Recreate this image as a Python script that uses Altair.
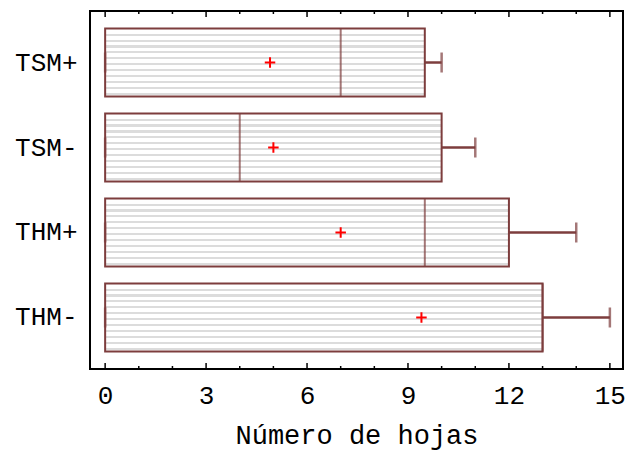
import altair as alt
import pandas as pd

cats = ["TSM+", "TSM-", "THM+", "THM-"]
mins = [0, 0, 0, 0]
q1s = [0, 0, 0, 0]
medians = [7, 4, 9.5, 13]
q3s = [9.5, 10, 12, 13]
maxs = [10, 11, 14, 15]
means = [4.9, 5.0, 7.0, 9.4]

major_ticks = [0, 3, 6, 9, 12, 15]
minor_ticks = [1, 2, 4, 5, 7, 8, 10, 11, 13, 14]

df = pd.DataFrame({"cat": cats, "min": mins, "q1": q1s, "med": medians,
                   "q3": q3s, "max": maxs, "mean": means})
df_major = pd.DataFrame({"v": major_ticks})
df_minor = pd.DataFrame({"v": minor_ticks})

FONT = "Courier New, Liberation Mono, monospace"
BOX = "#7d3d3d"
W, H = 533, 358

# striped fill (style only)
stops = [alt.GradientStop(offset=0, color="white")]
for k in range(11):
    s = 0.074 + k * 0.0877
    stops += [alt.GradientStop(offset=s, color="white"),
              alt.GradientStop(offset=s, color="#dcdcdc"),
              alt.GradientStop(offset=s + 0.03, color="#dcdcdc"),
              alt.GradientStop(offset=s + 0.03, color="white")]
stops.append(alt.GradientStop(offset=1, color="white"))
stripes = alt.Gradient(gradient="linear", stops=stops, x1=0, x2=0, y1=0, y2=1)

xscale = alt.Scale(domain=[-0.45, 15.39], nice=False, zero=False)
yscale = alt.Scale(domain=cats, paddingInner=0.2, paddingOuter=0.206)

xenc = alt.X("q1:Q", scale=xscale,
             axis=alt.Axis(values=major_ticks, grid=False, ticks=False, domain=False,
                           labelFont=FONT, labelFontSize=26, labelColor="black",
                           labelPadding=13, title="Número de hojas",
                           titleFont=FONT, titleFontSize=27, titleFontWeight="normal",
                           titleColor="black", titlePadding=14))
yenc = alt.Y("cat:N", scale=yscale, sort=cats,
             axis=alt.Axis(title=None, ticks=False, domain=False, grid=False,
                           labelFont=FONT, labelFontSize=26, labelColor="black",
                           labelPadding=13))

base = alt.Chart(df)

boxes = base.mark_bar(fill=stripes, stroke=BOX, strokeWidth=2).encode(
    x=xenc, x2="q3:Q", y=yenc)

whisk = base.mark_rule(color=BOX, strokeWidth=2.5).encode(
    x=alt.X("q3:Q", scale=xscale), x2="max:Q", y=alt.Y("cat:N", scale=yscale, sort=cats))

cap_max = base.mark_tick(color=BOX, thickness=2.5, size=20, orient="vertical").encode(
    x=alt.X("max:Q", scale=xscale), y=alt.Y("cat:N", scale=yscale, sort=cats))
cap_min = base.mark_tick(color=BOX, thickness=2.5, size=20, orient="vertical").encode(
    x=alt.X("min:Q", scale=xscale), y=alt.Y("cat:N", scale=yscale, sort=cats))
med = base.mark_tick(color=BOX, thickness=2, size=68, orient="vertical").encode(
    x=alt.X("med:Q", scale=xscale), y=alt.Y("cat:N", scale=yscale, sort=cats))

mean_pt = base.mark_point(shape="M-1,0L1,0M0,-1L0,1", filled=False, stroke="red",
                          strokeWidth=2, size=110, opacity=1).encode(
    x=alt.X("mean:Q", scale=xscale), y=alt.Y("cat:N", scale=yscale, sort=cats))

def ticks(d, y1, y2):
    return alt.Chart(d).mark_rule(color="black", strokeWidth=1.5).encode(
        x=alt.X("v:Q", scale=xscale), y=alt.value(y1), y2=alt.value(y2))

tick_layers = [ticks(df_major, H, H - 6), ticks(df_minor, H, H - 3),
               ticks(df_major, 0, 6), ticks(df_minor, 0, 3)]

chart = alt.layer(boxes, whisk, cap_max, cap_min, med, mean_pt, *tick_layers).properties(
    width=W, height=H,
    autosize=alt.AutoSizeParams(type="none"),
    padding={"left": 90, "top": 11, "right": 3, "bottom": 83},
    background="white",
).configure_view(stroke="black", strokeWidth=2)

chart.save("out.html", embed_options={"renderer": "svg", "actions": False})
